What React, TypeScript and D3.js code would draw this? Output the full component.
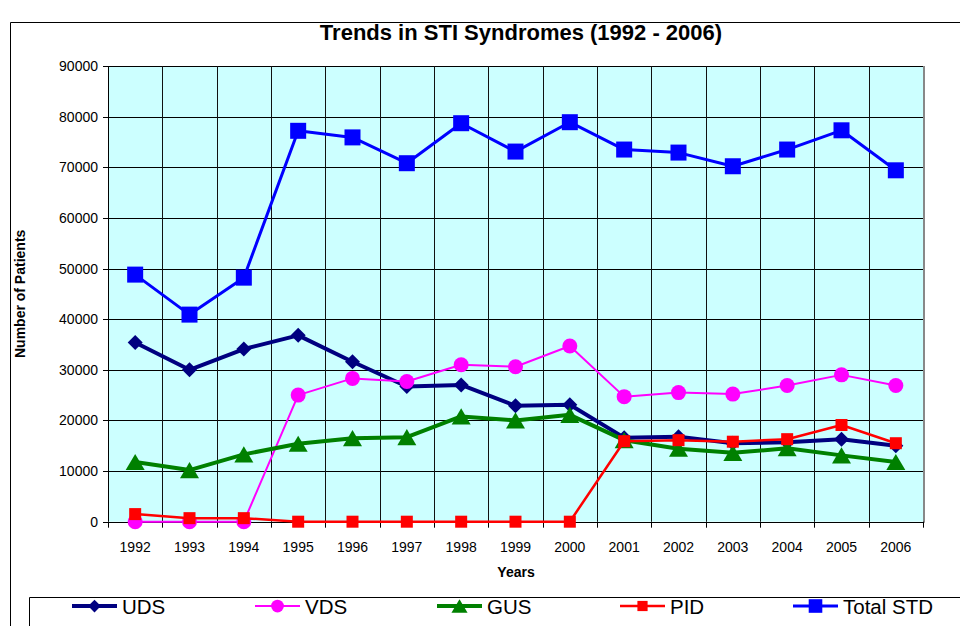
import React from "react";
import { scaleBand, scaleLinear, line } from "d3";

const years = ["1992", "1993", "1994", "1995", "1996", "1997", "1998", "1999", "2000", "2001", "2002", "2003", "2004", "2005", "2006"];
const uds = [35400, 30000, 34100, 36800, 31600, 26700, 27000, 22900, 23100, 16600, 16800, 15500, 15700, 16300, 15000];
const vds = [0, 0, 0, 25000, 28300, 27700, 31000, 30600, 34700, 24700, 25500, 25200, 26900, 29000, 26900];
const gus = [11800, 10200, 13300, 15400, 16500, 16700, 20800, 20000, 21100, 16100, 14400, 13600, 14500, 13100, 11800];
const pid = [1500, 700, 700, 0, 0, 0, 0, 0, 0, 15900, 16100, 15800, 16300, 19100, 15500];
const totalStd = [48800, 40900, 48200, 77200, 75900, 70800, 78700, 73100, 78900, 73500, 72900, 70200, 73500, 77300, 69400];
const yTicks = [0, 10000, 20000, 30000, 40000, 50000, 60000, 70000, 80000, 90000];

type Shape = "diamond" | "circle" | "triangle" | "square";
interface Series {
  name: string;
  values: number[];
  color: string;
  width: number;
  shape: Shape;
  size: number;
}

const series: Series[] = [
  { name: "UDS", values: uds, color: "#000080", width: 4, shape: "diamond", size: 15 },
  { name: "VDS", values: vds, color: "#FF00FF", width: 2, shape: "circle", size: 15 },
  { name: "GUS", values: gus, color: "#008000", width: 4, shape: "triangle", size: 19 },
  { name: "PID", values: pid, color: "#FF0000", width: 2.5, shape: "square", size: 12 },
  { name: "Total STD", values: totalStd, color: "#0000FF", width: 3, shape: "square", size: 16 },
];

const FONT = "'Liberation Sans', Arial, sans-serif";

function Marker({ shape, size, color, cx, cy }: { shape: Shape; size: number; color: string; cx: number; cy: number }) {
  const h = size / 2;
  if (shape === "circle") return <circle cx={cx} cy={cy} r={h} fill={color} />;
  if (shape === "square") return <rect x={cx - h} y={cy - h} width={size} height={size} fill={color} />;
  if (shape === "diamond")
    return <path d={`M${cx},${cy - h}L${cx + h},${cy}L${cx},${cy + h}L${cx - h},${cy}Z`} fill={color} />;
  const th = size * 0.85;
  return <path d={`M${cx},${cy - th / 2}L${cx + h},${cy + th / 2}L${cx - h},${cy + th / 2}Z`} fill={color} />;
}

export default function App() {
  const left = 108;
  const right = 923;
  const top = 66;
  const bottom = 521.7;

  const x = scaleBand().domain(years).range([left, right]);
  const y = scaleLinear().domain([0, 90000]).range([bottom, top]);
  const cx = (d: string) => x(d)! + x.bandwidth() / 2;

  const bounds = years.map((d) => x(d)!).concat([right]);
  const legendX = [72, 255, 437, 620, 793];

  return (
    <svg
      width={960}
      height={626}
      style={{ position: "absolute", left: 0, top: 0, background: "#fff" }}
      fontFamily={FONT}
    >
      {/* chart frame */}
      <path d="M10.5,626V22.5H960" fill="none" stroke="#000" strokeWidth={1} />

      <text x={521} y={40} textAnchor="middle" fontSize={22} fontWeight="bold" fill="#000">
        Trends in STI Syndromes (1992 - 2006)
      </text>

      {/* plot area */}
      <rect x={left} y={top} width={right - left} height={bottom - top} fill="#CCFFFF" />
      {yTicks.slice(1).map((t) => (
        <line key={t} x1={left} x2={right} y1={Math.round(y(t)) + 0.5} y2={Math.round(y(t)) + 0.5} stroke="#000" />
      ))}
      {bounds.slice(1, -1).map((b, i) => (
        <line key={i} x1={Math.round(b) + 0.5} x2={Math.round(b) + 0.5} y1={top} y2={bottom} stroke="#111" />
      ))}
      <line x1={right + 1} x2={right + 1} y1={top} y2={bottom + 1} stroke="#888" strokeWidth={2} />

      {/* axes */}
      <line x1={left + 0.5} x2={left + 0.5} y1={top} y2={bottom} stroke="#000" />
      <line x1={left} x2={right} y1={Math.round(bottom) + 0.5} y2={Math.round(bottom) + 0.5} stroke="#000" />
      {yTicks.map((t) => (
        <g key={t}>
          <line x1={left - 5} x2={left} y1={Math.round(y(t)) + 0.5} y2={Math.round(y(t)) + 0.5} stroke="#000" />
          <text x={98} y={y(t) + 5} textAnchor="end" fontSize={14} fill="#000">
            {t}
          </text>
        </g>
      ))}
      {bounds.map((b, i) => (
        <line key={i} x1={Math.round(b) + 0.5} x2={Math.round(b) + 0.5} y1={bottom} y2={bottom + 6} stroke="#000" />
      ))}
      {years.map((d) => (
        <text key={d} x={cx(d)} y={552} textAnchor="middle" fontSize={14} fill="#000">
          {d}
        </text>
      ))}
      <text x={516} y={577} textAnchor="middle" fontSize={14} fontWeight="bold" fill="#000">
        Years
      </text>
      <text
        transform={`translate(25,${(top + bottom) / 2}) rotate(-90)`}
        textAnchor="middle"
        fontSize={14}
        fontWeight="bold"
        fill="#000"
      >
        Number of Patients
      </text>

      {/* series */}
      {series.map((s) => {
        const path = line<number>()
          .x((_, i) => cx(years[i]))
          .y((v) => y(v))(s.values);
        return (
          <g key={s.name}>
            <path d={path ?? ""} fill="none" stroke={s.color} strokeWidth={s.width} strokeLinejoin="round" />
            {s.values.map((v, i) => (
              <Marker key={i} shape={s.shape} size={s.size} color={s.color} cx={cx(years[i])} cy={y(v)} />
            ))}
          </g>
        );
      })}

      {/* legend */}
      <path d="M29.5,626V597.5H960" fill="none" stroke="#000" />
      {series.map((s, i) => {
        const lx = legendX[i];
        const ly = 606;
        return (
          <g key={s.name}>
            <line x1={lx} x2={lx + 45} y1={ly} y2={ly} stroke={s.color} strokeWidth={s.width} />
            <Marker shape={s.shape} size={s.size * 0.85} color={s.color} cx={lx + 22.5} cy={ly} />
            <text x={lx + 50} y={ly + 7.5} fontSize={20.5} fill="#000">
              {s.name}
            </text>
          </g>
        );
      })}
    </svg>
  );
}
